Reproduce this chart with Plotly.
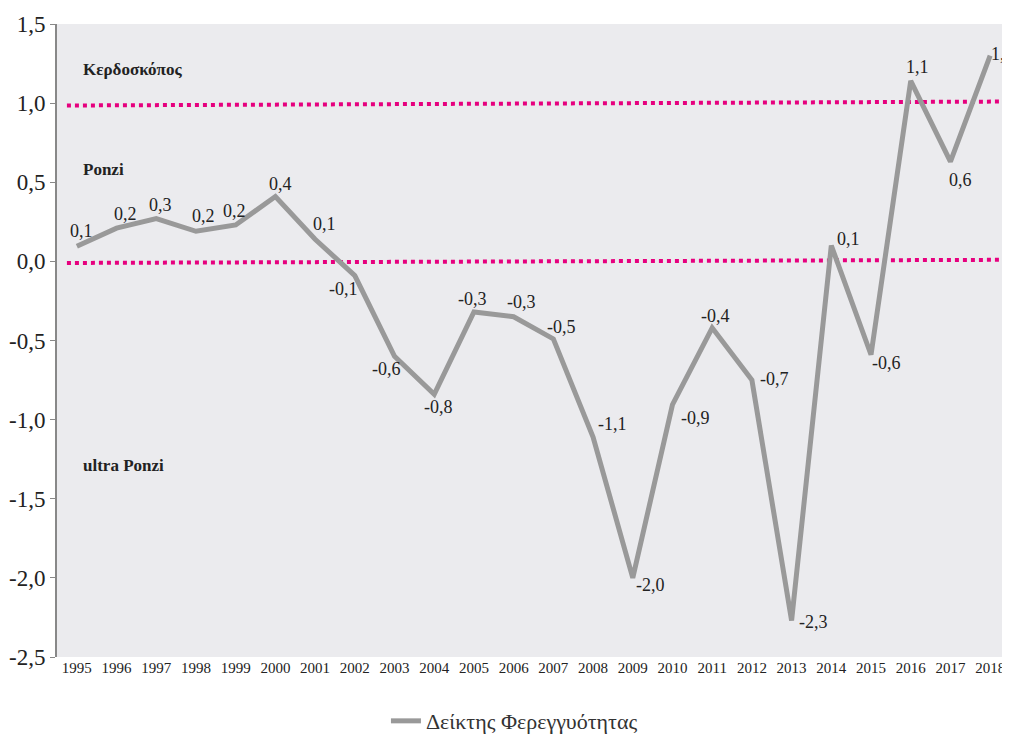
import plotly.graph_objects as go

years = ["1995","1996","1997","1998","1999","2000","2001","2002","2003","2004","2005","2006",
         "2007","2008","2009","2010","2011","2012","2013","2014","2015","2016","2017","2018"]
index_values = [0.095, 0.21, 0.27, 0.19, 0.23, 0.41, 0.14, -0.09, -0.60, -0.84, -0.32, -0.35,
                -0.49, -1.11, -2.00, -0.905, -0.42, -0.75, -2.27, 0.10, -0.59, 1.14, 0.63, 1.30]
value_labels = ["0,1","0,2","0,3","0,2","0,2","0,4","0,1","-0,1","-0,6","-0,8","-0,3","-0,3",
                "-0,5","-1,1","-2,0","-0,9","-0,4","-0,7","-2,3","0,1","-0,6","1,1","0,6","1,3"]
y_tickvals = [-2.5, -2.0, -1.5, -1.0, -0.5, 0.0, 0.5, 1.0, 1.5]
y_ticktext = ["-2,5", "-2,0", "-1,5", "-1,0", "-0,5", "0,0", "0,5", "1,0", "1,5"]
upper_threshold = [0.985, 1.01]
lower_threshold = [-0.01, 0.01]
threshold_x = [-0.25, 23.5]
zone_labels = ["Κερδοσκόπος", "Ponzi", "ultra Ponzi"]
zone_y = [1.21, 0.58, -1.29]

# label offsets in pixels (style only): (dx, dy) with dy positive downward
label_offsets = [(5, -15), (9, -14), (4, -14), (8, -15), (-1, -14), (5, -12), (9, -15), (-11, 13),
                 (-8, 13), (4, 13), (-1, -13), (8, -15), (8, -12), (19, -13), (18, 7), (23, 13),
                 (3, -12), (23, -1), (22, 1), (17, -7), (15, 8), (7, -14), (10, 18), (12, -2)]

x = list(range(len(years)))
pink = "#E6007E"
fnt = "Liberation Serif"

fig = go.Figure()
fig.add_trace(go.Scatter(x=threshold_x, y=upper_threshold, mode="lines",
                         line=dict(color=pink, width=4, dash="dot"), showlegend=False, hoverinfo="skip"))
fig.add_trace(go.Scatter(x=threshold_x, y=lower_threshold, mode="lines",
                         line=dict(color=pink, width=4, dash="dot"), showlegend=False, hoverinfo="skip"))
fig.add_trace(go.Scatter(x=x, y=index_values, mode="lines", name="Δείκτης Φερεγγυότητας",
                         line=dict(color="#999999", width=5)))

for xi, yi, lab, (dx, dy) in zip(x, index_values, value_labels, label_offsets):
    fig.add_annotation(x=xi, y=yi, xref="x", yref="y", text=lab, showarrow=False,
                       xshift=dx, yshift=-dy, font=dict(family=fnt, size=18, color="#222222"))

for t, yy in zip(zone_labels, zone_y):
    fig.add_annotation(x=0.1, y=yy, xref="x", yref="y", text="<b>" + t + "</b>", showarrow=False,
                       xanchor="left", font=dict(family=fnt, size=17, color="#222222"))

# the page body has an 8px margin, so the figure is 8px smaller to fill the 1010x734 window
fig.update_layout(
    width=1002, height=726,
    margin=dict(l=49, r=0, t=16, b=77, autoexpand=False),
    paper_bgcolor="white", plot_bgcolor="#EBEBEE",
    showlegend=True,
    legend=dict(orientation="h", x=0.48, xanchor="center", y=-0.068, yanchor="top",
                font=dict(family=fnt, size=22, color="#333333")),
    xaxis=dict(tickmode="array", tickvals=x, ticktext=years, range=[-0.5, 23.5], automargin=False,
               showgrid=False, zeroline=False, showline=False, ticks="",
               tickfont=dict(family=fnt, size=15, color="#222222")),
    yaxis=dict(range=[-2.5, 1.5], tickmode="array", tickvals=y_tickvals, ticktext=y_ticktext,
               automargin=False, showgrid=False, zeroline=False,
               showline=True, linecolor="#888888", linewidth=2, ticks="outside", ticklen=5,
               tickcolor="#888888", tickfont=dict(family=fnt, size=23, color="#222222")),
)

fig.write_html("out.html")
